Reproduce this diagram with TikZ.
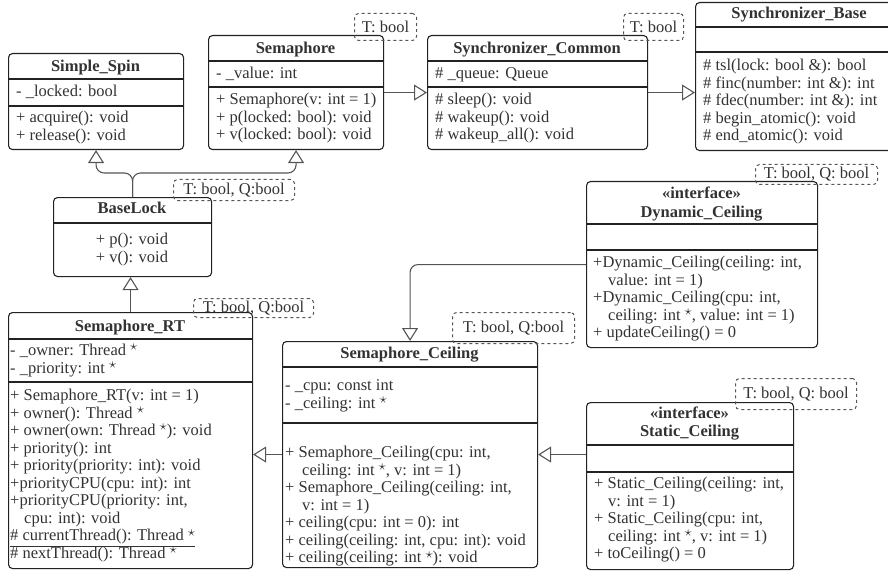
\documentclass[tikz,border=0pt]{standalone}
\usepackage{fontspec}
\setmainfont{Liberation Serif}
\usetikzlibrary{arrows.meta}
\definecolor{boxColor}{RGB}{34,34,34}
\definecolor{lineColor}{RGB}{85,85,85}
\definecolor{textColor}{RGB}{50,50,50}
\tikzstyle{uml} = [x = 1pt, y = -1pt]
\tikzstyle{classBox} = [draw=boxColor, line width=1.1pt, rounded corners=4pt, anchor=north west, inner sep=0pt]
\tikzstyle{classLine} = [draw=boxColor, line width=1.1pt]
\tikzstyle{classTitle} = [text=textColor, font=\fontsize{16.5}{19}\selectfont\bfseries, anchor=base, inner sep=0pt, text height=11pt, text depth=3.5pt]
\tikzstyle{rowText} = [text=textColor, font=\fontsize{16.5}{19}\selectfont, anchor=base west, inner sep=0pt, text height=11pt, text depth=3.5pt]
\tikzstyle{tagBox} = [draw=lineColor, dashed, line width=1pt, rounded corners=4pt, anchor=north west, inner sep=0pt, text=textColor, font=\fontsize{16.5}{19}\selectfont]
\tikzstyle{inherit} = [draw=lineColor, line width=1.1pt, rounded corners=8pt, -{Triangle[open, width=16pt, length=13pt]}]
\newcommand{\rowStep}{17.55}
\newcommand{\ptrStar}{~\raisebox{.28em}{\scalebox{.85}{$\star$}}}
\newcommand{\umlClass}[7]{
  \node [classBox, minimum width=#4, minimum height=#5] (#1) at (#2,#3) {};
  \draw [classLine] (#2,#6) -- +(#4,0);
  \draw [classLine] (#2,#7) -- +(#4,0);
}
\newcommand{\classRows}[4]{
  \foreach \rowLine [count=\i from 0] in {#4} {
    \node [rowText] (#1-\i) at (#2, #3 + 5.5 + \i * \rowStep) {\rowLine};
  }
}

\begin{document}
\begin{tikzpicture}[uml]
  \useasboundingbox (0,0) rectangle (888,572);

  \umlClass{spin}{8}{53}{175}{96}{79}{106}
  \node [classTitle] (spin-title) at (95.5,71.5) {Simple\_Spin};
  \classRows{spin-attr}{16}{91}{{- \_locked: bool}}
  \classRows{spin-ops}{16}{117}{{+ acquire(): void}, {+ release(): void}}

  \umlClass{sem}{208}{35}{175}{114}{61}{87}
  \node [classTitle] (sem-title) at (295.5,53.5) {Semaphore};
  \classRows{sem-attr}{216}{73}{{- \_value: int}}
  \classRows{sem-ops}{216}{99}{{+ Semaphore(v: int = 1)}, {+ p(locked: bool): void}, {+ v(locked: bool): void}}

  \umlClass{common}{427}{35}{220}{114}{61}{87}
  \node [classTitle] (common-title) at (537,53.5) {Synchronizer\_Common};
  \classRows{common-attr}{435}{73}{{\# \_queue: Queue}}
  \classRows{common-ops}{435}{99}{{\# sleep(): void}, {\# wakeup(): void}, {\# wakeup\_all(): void}}

  \umlClass{base}{695}{2}{208}{148}{27}{52}
  \node [classTitle] (base-title) at (799,18.5) {Synchronizer\_Base};
  \classRows{base-ops}{703}{65}{{\# tsl(lock: bool \&): bool}, {\# finc(number: int \&): int}, {\# fdec(number: int \&): int}, {\# begin\_atomic(): void}, {\# end\_atomic(): void}}

  \umlClass{lock}{53}{197}{158}{79}{223}{223}
  \node [classTitle] (lock-title) at (132,213.5) {BaseLock};
  \node [rowText, anchor=base] (lock-p) at (132,244.5) {+ p(): void};
  \node [rowText, anchor=base] (lock-v) at (132,262.5) {+ v(): void};

  \umlClass{rt}{8}{312}{244}{256}{339}{382}
  \node [classTitle] (rt-title) at (130,331.5) {Semaphore\_RT};
  \classRows{rt-attr}{10}{350}{{- \_owner: Thread\ptrStar}, {- \_priority: int\ptrStar}}
  \classRows{rt-ops}{10}{395}{{+ Semaphore\_RT(v: int = 1)}, {+ owner(): Thread\ptrStar}, {+ owner(own: Thread\ptrStar): void}, {+ priority(): int}, {+ priority(priority: int): void}, {+priorityCPU(cpu: int): int}, {+priorityCPU(priority: int,}, {\hspace*{14pt}cpu: int): void}, {\underline{\# currentThread(): Thread\ptrStar}}, {\# nextThread(): Thread\ptrStar}}

  \umlClass{ceil}{282}{341}{255}{226}{367}{423}
  \node [classTitle] (ceil-title) at (409.5,358.5) {Semaphore\_Ceiling};
  \classRows{ceil-attr}{285}{385}{{- \_cpu: const int}, {- \_ceiling: int\ptrStar}}
  \classRows{ceil-ops}{285}{452}{{+ Semaphore\_Ceiling(cpu: int,}, {\hspace*{17pt}ceiling: int\ptrStar, v: int = 1)}, {+ Semaphore\_Ceiling(ceiling: int,}, {\hspace*{17pt}v: int = 1)}, {+ ceiling(cpu: int = 0): int}, {+ ceiling(ceiling: int, cpu: int): void}, {+ ceiling(ceiling: int\ptrStar): void}}

  \umlClass{dyn}{586}{181}{231}{166}{224}{250}
  \node [classTitle] (dyn-stereo) at (701.5,198.5) {«interface»};
  \node [classTitle] (dyn-title) at (701.5,217.5) {Dynamic\_Ceiling};
  \classRows{dyn-ops}{593}{262}{{+Dynamic\_Ceiling(ceiling: int,}, {\hspace*{15pt}value: int = 1)}, {+Dynamic\_Ceiling(cpu: int,}, {\hspace*{15pt}ceiling: int\ptrStar, value: int = 1)}, {+ updateCeiling() = 0}}

  \umlClass{static}{586}{402}{207}{167}{445}{472}
  \node [classTitle] (static-stereo) at (689.5,418.5) {«interface»};
  \node [classTitle] (static-title) at (689.5,436.5) {Static\_Ceiling};
  \classRows{static-ops}{594}{483}{{+ Static\_Ceiling(ceiling: int,}, {\hspace*{14pt}v: int = 1)}, {+ Static\_Ceiling(cpu: int,}, {\hspace*{14pt}ceiling: int\ptrStar, v: int = 1)}, {+ toCeiling() = 0}}

  % template tags
  \node [tagBox, minimum width=62, minimum height=27] (sem-tag) at (354,13) {T: bool};
  \node [tagBox, minimum width=60, minimum height=27] (common-tag) at (623,13) {T: bool};
  \node [tagBox, minimum width=121, minimum height=21] (lock-tag) at (173,179) {T: bool, Q:bool};
  \node [tagBox, minimum width=120, minimum height=19] (rt-tag) at (193,298) {T: bool, Q:bool};
  \node [tagBox, minimum width=122, minimum height=31] (ceil-tag) at (452,312) {T: bool, Q:bool};
  \node [tagBox, minimum width=122, minimum height=20] (dyn-tag) at (755,164) {T: bool, Q: bool};
  \node [tagBox, minimum width=121, minimum height=31] (static-tag) at (735,378) {T: bool, Q: bool};

  % generalisations
  \coordinate (lockFork) at (132,173);
  \draw [inherit] (lock.north) |- (lockFork -| spin.south) -- (spin.south);
  \draw [inherit] (lock.north) |- (lockFork -| sem.south) -- (sem.south);
  \draw [inherit] (rt.north) -- (rt.north |- lock.south);
  \draw [inherit] (sem.east) -- (common.west);
  \draw [inherit] (common.east) -- (common.east -| base.west);
  \draw [inherit] (ceil.west) -- (rt.east |- ceil.west);
  \draw [inherit] (static.west |- ceil.east) -- (ceil.east);
  \draw [inherit] (dyn.west) -| (ceil.north);
\end{tikzpicture}
\end{document}
